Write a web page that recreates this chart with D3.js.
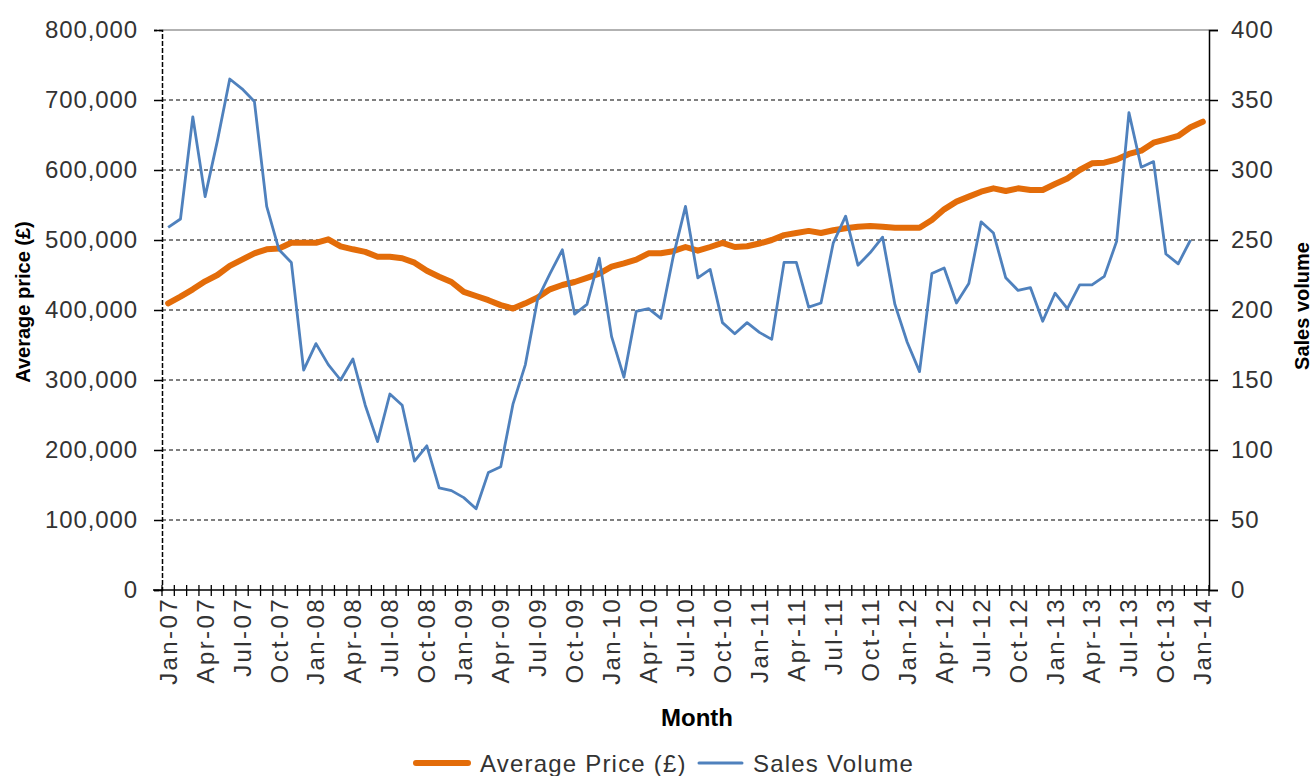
<!DOCTYPE html>
<html>
<head>
<meta charset="utf-8">
<script src="https://cdn.jsdelivr.net/npm/d3@7"></script>
<style>
  body { margin: 0; background: #fff; }
  svg text { font-family: "Liberation Sans", Arial, sans-serif; }
</style>
</head>
<body>
<svg width="1314" height="776"></svg>
<script>
// monthly categories Jan-07 .. Jan-14
const months = d3.timeMonth.range(new Date(2007, 0, 1), new Date(2014, 1, 1));

const avgPrice = [
  409500, 419000, 429500, 441000, 450000, 463000, 472000, 481000, 486700, 488000, 496000, 496000,
  496000, 501000, 491000, 486700, 483000, 476000, 476000, 474000, 467600, 456000, 447600, 440000,
  426000, 420000, 414000, 407000, 402000, 409500, 418000, 429500, 435700, 440000, 446000, 452000,
  462000, 466700, 472000, 481000, 481000, 484000, 490000, 484700, 490000, 496000, 490000, 491000,
  495000, 500000, 507000, 510000, 513000, 510000, 514000, 516700, 519000, 520000, 519000, 517600,
  517600, 517600, 528600, 543800, 554800, 562000, 569000, 573800, 570000, 573800, 571400, 571400,
  580000, 588000, 600000, 609500, 610500, 615000, 623000, 627600, 639000, 643800, 648600, 661000,
  669000
];

const salesVolume = [
  259, 265, 338, 281, 321, 365, 358, 349, 274, 243, 234, 157,
  176, 161, 150, 165, 132, 106, 140, 132, 92, 103, 73, 71,
  66, 58, 84, 88, 133, 161, 208, 226, 243, 197, 204, 237,
  181, 152, 199, 201, 194, 238, 274, 223, 229, 191, 183, 191,
  184, 179, 234, 234, 202, 205, 248, 267, 232, 241, 252, 204,
  177, 156, 226, 230, 205, 219, 263, 255, 223, 214, 216, 192,
  212, 201, 218, 218, 224, 249, 341, 302, 306, 240, 233, 250,
  null
];

const leftTicks = [0, 100000, 200000, 300000, 400000, 500000, 600000, 700000, 800000];
const rightTicks = [0, 50, 100, 150, 200, 250, 300, 350, 400];

const svg = d3.select('svg');
const plotL = 162, plotR = 1209, plotT = 30, plotB = 590;

const x = d3.scaleLinear().domain([-0.5, months.length - 0.5]).range([plotL, plotR]);
const yL = d3.scaleLinear().domain([0, 800000]).range([plotB, plotT]);
const yR = d3.scaleLinear().domain([0, 400]).range([plotB, plotT]);

const fmtMonth = d3.timeFormat('%b-%y');
const fmtNum = d3.format(',');

// gridlines
svg.append('g')
  .selectAll('line')
  .data(leftTicks.filter(d => d > 0 && d < 800000))
  .join('line')
  .attr('x1', plotL).attr('x2', plotR)
  .attr('y1', d => yL(d)).attr('y2', d => yL(d))
  .attr('stroke', '#000')
  .attr('stroke-width', 1.2)
  .attr('stroke-dasharray', '4,3');

// top border
svg.append('line')
  .attr('x1', plotL).attr('x2', plotR)
  .attr('y1', plotT).attr('y2', plotT)
  .attr('stroke', '#999').attr('stroke-width', 1.5);

// left axis
const gL = svg.append('g')
  .attr('transform', 'translate(' + plotL + ',0)')
  .call(d3.axisLeft(yL).tickValues(leftTicks).tickFormat(fmtNum).tickSize(8).tickPadding(16));

// right axis
const gR = svg.append('g')
  .attr('transform', 'translate(' + plotR + ',0)')
  .call(d3.axisRight(yR).tickValues(rightTicks).tickSize(9).tickPadding(13));

[gL, gR].forEach(g => {
  g.select('.domain').attr('stroke', '#000').attr('stroke-width', 1.5);
  g.selectAll('.tick line').attr('stroke', '#000').attr('stroke-width', 1.5);
  g.selectAll('.tick text')
    .attr('font-size', 24)
    .attr('letter-spacing', 0.9)
    .attr('fill', '#333')
    .style('font-family', '"Liberation Sans", Arial, sans-serif');
});
gL.select('.domain').attr('stroke-dasharray', '5,2');

// x axis line + crossing ticks between categories
const gX = svg.append('g');
gX.append('line')
  .attr('x1', plotL - 9).attr('x2', plotR)
  .attr('y1', plotB).attr('y2', plotB)
  .attr('stroke', '#000').attr('stroke-width', 1.5);

gX.selectAll('line.tk')
  .data(d3.range(-1, months.length).map(i => i + 0.5))
  .join('line')
  .attr('class', 'tk')
  .attr('x1', d => x(d)).attr('x2', d => x(d))
  .attr('y1', plotB - 5).attr('y2', plotB + 6)
  .attr('stroke', '#000').attr('stroke-width', 1.3);

gX.selectAll('text')
  .data(months.map((m, i) => i).filter(i => i % 3 === 0))
  .join('text')
  .attr('transform', i => 'translate(' + (x(i) + 8.5) + ',' + (plotB + 7) + ') rotate(-90)')
  .attr('text-anchor', 'end')
  .attr('font-size', 24)
  .attr('letter-spacing', 2.4)
  .attr('fill', '#333')
  .text(i => fmtMonth(months[i]));

// lines
const priceLine = d3.line()
  .x((d, i) => x(i))
  .y(d => yL(d));

const volLine = d3.line()
  .defined(d => d != null)
  .x((d, i) => x(i))
  .y(d => yR(d));

svg.append('path')
  .datum(avgPrice)
  .attr('d', priceLine)
  .attr('fill', 'none')
  .attr('stroke', '#E36C09')
  .attr('stroke-width', 6)
  .attr('stroke-linejoin', 'round')
  .attr('stroke-linecap', 'round');

svg.append('path')
  .datum(salesVolume)
  .attr('d', volLine)
  .attr('fill', 'none')
  .attr('stroke', '#4F81BD')
  .attr('stroke-width', 2.8)
  .attr('stroke-linejoin', 'round');

// axis titles
svg.append('text')
  .attr('transform', 'translate(30,302) rotate(-90)')
  .attr('text-anchor', 'middle')
  .attr('font-size', 20)
  .attr('font-weight', 'bold')
  .attr('fill', '#000')
  .text('Average price (£)');

svg.append('text')
  .attr('transform', 'translate(1309,306) rotate(-90)')
  .attr('text-anchor', 'middle')
  .attr('font-size', 20)
  .attr('font-weight', 'bold')
  .attr('fill', '#000')
  .text('Sales volume');

svg.append('text')
  .attr('x', 697).attr('y', 726)
  .attr('text-anchor', 'middle')
  .attr('font-size', 24)
  .attr('font-weight', 'bold')
  .attr('fill', '#000')
  .text('Month');

// legend
const legend = [
  {name: 'Average Price (£)', color: '#E36C09', w: 6, x0: 416, x1: 468, tx: 480},
  {name: 'Sales Volume', color: '#4F81BD', w: 3, x0: 699, x1: 742, tx: 753}
];
const lg = svg.append('g').attr('transform', 'translate(0,763)');
lg.selectAll('line')
  .data(legend)
  .join('line')
  .attr('x1', d => d.x0).attr('x2', d => d.x1)
  .attr('y1', 0).attr('y2', 0)
  .attr('stroke', d => d.color)
  .attr('stroke-width', d => d.w)
  .attr('stroke-linecap', 'round');
lg.selectAll('text')
  .data(legend)
  .join('text')
  .attr('x', d => d.tx).attr('y', 9)
  .attr('font-size', 24)
  .attr('letter-spacing', 1.2)
  .attr('fill', '#333')
  .text(d => d.name);
</script>
</body>
</html>
